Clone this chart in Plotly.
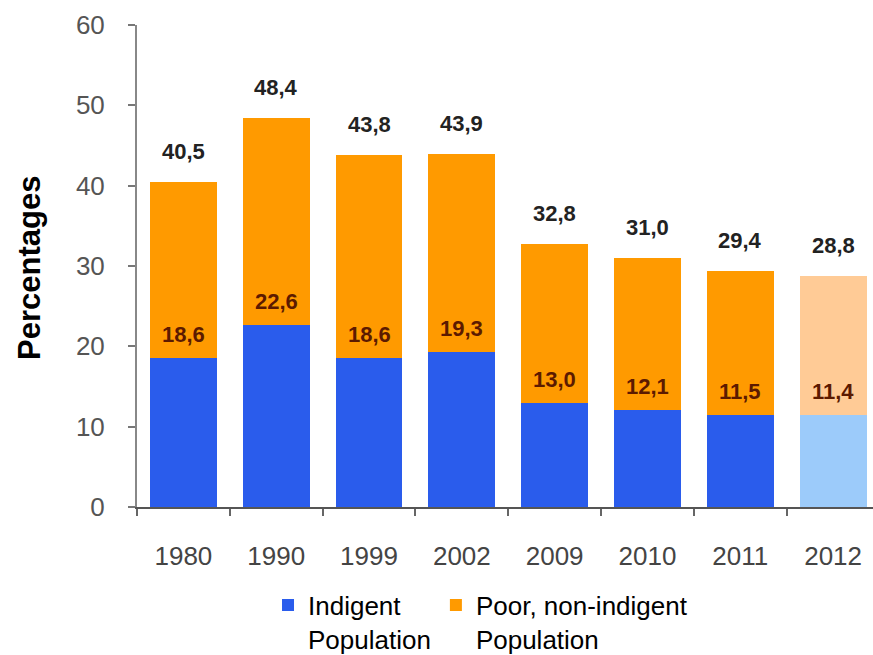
import plotly.graph_objects as go

years = ["1980", "1990", "1999", "2002", "2009", "2010", "2011", "2012"]
indigent = [18.6, 22.6, 18.6, 19.3, 13.0, 12.1, 11.5, 11.4]
total_poor = [40.5, 48.4, 43.8, 43.9, 32.8, 31.0, 29.4, 28.8]
poor_non_indigent = [round(t - i, 1) for t, i in zip(total_poor, indigent)]

blue = ["#2A5CEC"] * 7 + ["#9CCBFA"]
orange = ["#FF9A00"] * 7 + ["#FFCB96"]

def fmt(v):
    return f"{v:.1f}".replace(".", ",")

fig = go.Figure()
fig.add_trace(go.Bar(x=years, y=indigent, name="Indigent<br>Population",
                     marker=dict(color=blue, line=dict(width=0)), width=0.72,
                     hoverinfo="skip"))
fig.add_trace(go.Bar(x=years, y=poor_non_indigent, name="Poor, non-indigent<br>Population",
                     marker=dict(color=orange, line=dict(width=0)), width=0.72,
                     hoverinfo="skip"))

annotations = []
for k, (t, i) in enumerate(zip(total_poor, indigent)):
    annotations.append(dict(x=k, y=t, xref="x", yref="y", text=fmt(t), showarrow=False,
                            yanchor="bottom", yshift=16,
                            font=dict(family="Liberation Sans, Arial", size=22,
                                      color="#222222", weight="bold")))
    annotations.append(dict(x=k, y=i, xref="x", yref="y", text=fmt(i), showarrow=False,
                            yanchor="bottom", yshift=9,
                            font=dict(family="Liberation Sans, Arial", size=22,
                                      color="#5C1A00", weight="bold")))
annotations.append(dict(x=0, xref="paper", y=0.5, yref="paper", text="Percentages",
                        textangle=-90, showarrow=False, xanchor="center", yanchor="middle",
                        xshift=-108, yshift=-2,
                        font=dict(family="Liberation Sans, Arial", size=31, color="#000000",
                                  weight="bold")))

fig.update_layout(
    barmode="stack",
    width=873, height=655,
    margin=dict(l=137, r=0, t=25, b=148),
    paper_bgcolor="white", plot_bgcolor="white",
    showlegend=True,
    legend=dict(orientation="h", x=0.178, xanchor="left",
                yref="container", y=0.112, yanchor="top",
                valign="top",
                font=dict(family="Liberation Sans, Arial", size=26, color="#000000"),
                traceorder="normal", bgcolor="rgba(0,0,0,0)"),
    annotations=annotations,
    xaxis=dict(type="category", range=[-0.5, 7.43], tickson="boundaries",
               ticks="outside", ticklen=7, tickcolor="#666666", tickwidth=1.5,
               showline=True, linecolor="#555555", linewidth=2,
               showgrid=False, ticklabelstandoff=25,
               tickfont=dict(family="Liberation Sans, Arial", size=26, color="#444444")),
    yaxis=dict(range=[0, 60], tickvals=[0, 10, 20, 30, 40, 50, 60],
               ticks="outside", ticklen=7, tickcolor="#777777", tickwidth=1.5,
               showline=True, linecolor="#888888", linewidth=2,
               showgrid=False, zeroline=False, ticklabelstandoff=18,
               tickfont=dict(family="Liberation Sans, Arial", size=26, color="#555555")),
)

fig.write_html("out.html")
